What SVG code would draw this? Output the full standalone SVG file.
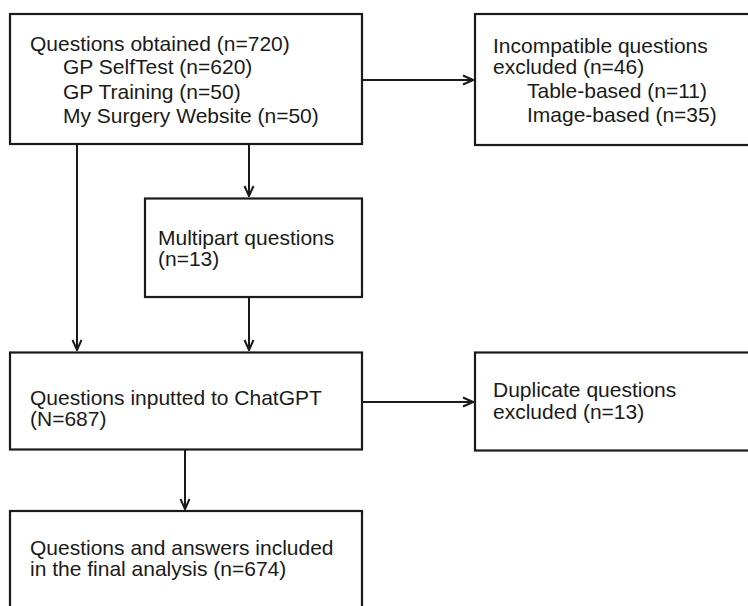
<svg xmlns="http://www.w3.org/2000/svg" width="748" height="606" viewBox="0 0 748 606">
<defs>
<marker id="arr" viewBox="0 0 12 12" refX="11" refY="6" markerWidth="12" markerHeight="12" markerUnits="userSpaceOnUse" orient="auto">
<path d="M1,1.5 L11,6 L1,10.5" fill="none" stroke="#1a1a1a" stroke-width="2"/>
</marker>
<style>
.box{fill:#fff;stroke:#1a1a1a;stroke-width:2.2}
.t{font-family:"Liberation Sans",Arial,Helvetica,sans-serif;font-size:21px;fill:#1a1a1a}
.c{fill:none;stroke:#1a1a1a;stroke-width:2}
</style>
</defs>
<rect width="748" height="606" fill="#fff"/>
<g id="connectors">
<path class="c" d="M362,80 H473" marker-end="url(#arr)"/>
<path class="c" d="M249,144 V196" marker-end="url(#arr)"/>
<path class="c" d="M77,144 V350" marker-end="url(#arr)"/>
<path class="c" d="M249,297 V350" marker-end="url(#arr)"/>
<path class="c" d="M362,402 H473" marker-end="url(#arr)"/>
<path class="c" d="M185,450 V509" marker-end="url(#arr)"/>
</g>
<g id="obtained">
<rect class="box" x="10" y="14" width="352" height="130"/>
<text class="t" x="30" y="50.5">Questions obtained (n=720)</text>
<text class="t" x="63" y="74">GP SelfTest (n=620)</text>
<text class="t" x="63" y="98.5">GP Training (n=50)</text>
<text class="t" x="63" y="123">My Surgery Website (n=50)</text>
</g>
<g id="incompatible">
<rect class="box" x="475" y="14" width="290" height="131"/>
<text class="t" x="493" y="53">Incompatible questions</text>
<text class="t" x="493" y="74">excluded (n=46)</text>
<text class="t" x="527" y="97.5">Table-based (n=11)</text>
<text class="t" x="527" y="121.5">Image-based (n=35)</text>
</g>
<g id="multipart">
<rect class="box" x="145" y="198.5" width="217" height="98.5"/>
<text class="t" x="158" y="245">Multipart questions</text>
<text class="t" x="158" y="266">(n=13)</text>
</g>
<g id="inputted">
<rect class="box" x="10" y="352.5" width="352" height="97"/>
<text class="t" x="30" y="405">Questions inputted to ChatGPT</text>
<text class="t" x="30" y="426">(N=687)</text>
</g>
<g id="duplicate">
<rect class="box" x="475" y="352.5" width="290" height="98"/>
<text class="t" x="493" y="397">Duplicate questions</text>
<text class="t" x="493" y="419">excluded (n=13)</text>
</g>
<g id="final">
<rect class="box" x="10" y="511" width="352" height="110"/>
<text class="t" x="30" y="555">Questions and answers included</text>
<text class="t" x="30" y="576">in the final analysis (n=674)</text>
</g>
</svg>
